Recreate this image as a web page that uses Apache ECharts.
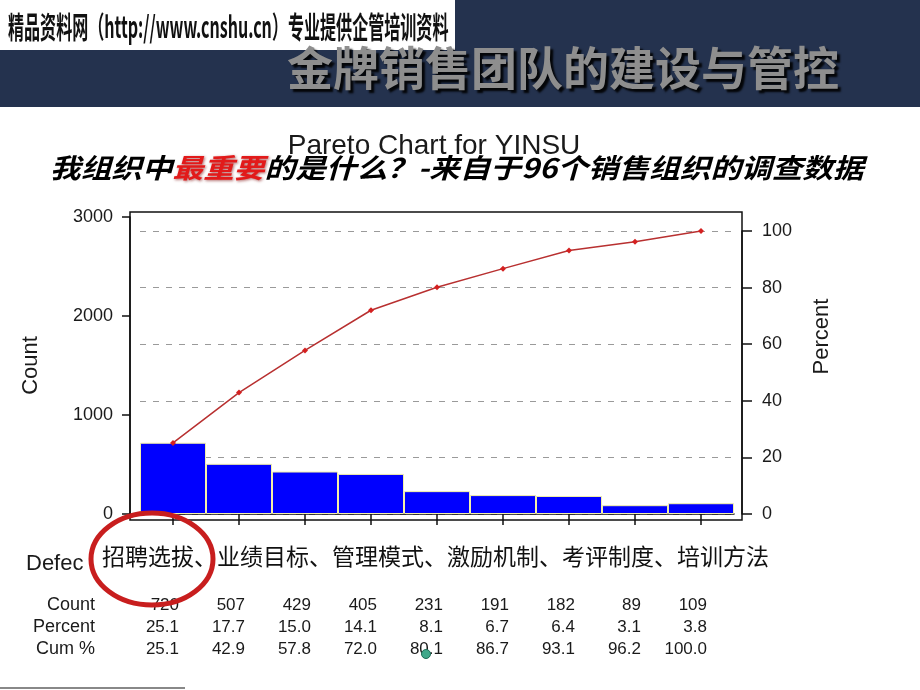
<!DOCTYPE html>
<html>
<head>
<meta charset="utf-8">
<script src="https://cdn.jsdelivr.net/npm/echarts@6/dist/echarts.min.js"></script>
<style>
html,body{margin:0;padding:0;background:#fff;}
#chart{width:920px;height:690px;}
</style>
</head>
<body>
<div id="chart"></div>
<script>
// ---- data ----
const categories = ['1', '2', '3', '4', '5', '6', '7', '8', 'Others'];
const counts = [720, 507, 429, 405, 231, 191, 182, 89, 109];
const percents = ['25.1', '17.7', '15.0', '14.1', '8.1', '6.7', '6.4', '3.1', '3.8'];
const cumPercents = [25.1, 42.9, 57.8, 72.0, 80.1, 86.7, 93.1, 96.2, 100.0];
const rowLabels = ['Count', 'Percent', 'Cum %'];
const countTicks = [0, 1000, 2000, 3000];
const percentTicks = [0, 20, 40, 60, 80, 100];
const headerText = '精品资料网（http://www.cnshu.cn）专业提供企管培训资料';
const slideTitle = '金牌销售团队的建设与管控';
const chartTitle = 'Pareto Chart for YINSU';
const overlayText = '招聘选拔、业绩目标、管理模式、激励机制、考评制度、培训方法';

const LATIN = '"Liberation Sans", Arial, sans-serif';
const CJK = '"Noto Sans CJK SC", sans-serif';

const chart = echarts.init(document.getElementById('chart'), null, {renderer: 'canvas'});

const tableRows = [counts.map(String), percents, cumPercents.map(v => v.toFixed(1))];
const rowOffsets = [9, 31, 53];

const tableAxes = tableRows.map((row, i) => ({
  gridIndex: 3, type: 'category', data: row, position: 'bottom', offset: rowOffsets[i],
  axisLine: {show: false}, axisTick: {show: false}, splitLine: {show: false},
  axisLabel: {align: 'right', verticalAlign: 'middle', margin: 0, fontSize: 17,
    color: '#1a1a1a', fontFamily: LATIN, interval: 0}
}));

const option = {
  animation: false,
  backgroundColor: '#ffffff',
  grid: [
    {left: 140, right: 186, top: 217, bottom: 176},
    {left: 140, right: 186, top: 231, bottom: 176},
    {left: 130, right: 178, top: 212, bottom: 170, show: true, borderColor: '#111', borderWidth: 1.5, backgroundColor: 'transparent', z: 5},
    {left: 146, right: 180, top: 595, height: 1},
    {left: 146, right: 180, top: 594, height: 66}
  ],
  xAxis: [
    {gridIndex: 0, type: 'category', data: categories, position: 'bottom', offset: 6,
      axisLine: {show: true, lineStyle: {color: '#111', width: 1.5}},
      axisTick: {show: true, alignWithLabel: true, length: 11, lineStyle: {color: '#111', width: 1.5}},
      axisLabel: {show: false}, splitLine: {show: false}},
    {gridIndex: 1, type: 'category', data: categories, show: false},
    {gridIndex: 2, type: 'value', show: false},
    ...tableAxes,
    {gridIndex: 4, type: 'value', show: false}
  ],
  yAxis: [
    {gridIndex: 0, type: 'value', position: 'left', min: countTicks[0], max: countTicks[countTicks.length - 1],
      interval: countTicks[1] - countTicks[0], offset: 10,
      axisLine: {show: true, lineStyle: {color: '#111', width: 1.5}},
      axisTick: {show: true, length: 8, lineStyle: {color: '#111', width: 1.5}},
      axisLabel: {margin: 17, fontSize: 18, color: '#1a1a1a', fontFamily: LATIN, formatter: v => String(v)},
      splitLine: {show: false},
      name: 'Count', nameLocation: 'middle', nameGap: 88,
      nameTextStyle: {fontSize: 22, color: '#1a1a1a', fontFamily: LATIN}},
    {gridIndex: 1, type: 'value', position: 'right', min: percentTicks[0], max: percentTicks[percentTicks.length - 1],
      interval: percentTicks[1] - percentTicks[0], offset: 8,
      axisLine: {show: true, lineStyle: {color: '#111', width: 1.5}},
      axisTick: {show: true, length: 10, lineStyle: {color: '#111', width: 1.5}},
      axisLabel: {margin: 20, fontSize: 18, color: '#1a1a1a', fontFamily: LATIN, formatter: v => String(v)},
      splitLine: {show: true, lineStyle: {color: '#9a9a9a', width: 1, type: [6, 7]}},
      name: 'Percent', nameLocation: 'middle', nameGap: 69,
      nameTextStyle: {fontSize: 22, color: '#1a1a1a', fontFamily: LATIN, padding: [0, 0, 0, 72]}},
    {gridIndex: 2, type: 'value', show: false},
    {gridIndex: 3, type: 'value', show: false},
    {gridIndex: 4, type: 'category', data: rowLabels, inverse: true, position: 'left',
      axisLine: {show: false}, axisTick: {show: false}, splitLine: {show: false},
      axisLabel: {margin: 51, fontSize: 18, color: '#1a1a1a', fontFamily: LATIN, interval: 0}}
  ],
  series: [
    {type: 'bar', xAxisIndex: 0, yAxisIndex: 0, data: counts, barCategoryGap: '0%', z: 2,
      itemStyle: {color: '#0000ff', borderColor: '#f3f0a8', borderWidth: 1}},
    {type: 'line', xAxisIndex: 1, yAxisIndex: 1, data: cumPercents, z: 3,
      symbol: 'diamond', symbolSize: 6,
      itemStyle: {color: '#d42020'},
      lineStyle: {color: '#b83030', width: 1.5}}
  ],
  graphic: [
    {type: 'rect', z: 1, shape: {x: 0, y: 0, width: 920, height: 107}, style: {fill: '#24324e'}},
    {type: 'rect', z: 2, shape: {x: 0, y: 0, width: 455, height: 50}, style: {fill: '#ffffff'}},
    {type: 'text', z: 3, x: 8, y: 27, scaleX: 0.535,
      style: {text: headerText, font: 'bold 30px ' + CJK, fill: '#111', align: 'left', verticalAlign: 'middle'}},
    {type: 'text', z: 3, x: 287, y: 68,
      style: {text: slideTitle, font: 'bold 46px ' + CJK, fill: '#8e8e8e', align: 'left', verticalAlign: 'middle',
        textShadowColor: 'rgba(0,0,0,0.9)', textShadowBlur: 2, textShadowOffsetX: 3, textShadowOffsetY: 3}},
    {type: 'text', z: 3, x: 434, y: 146,
      style: {text: chartTitle, font: '28px ' + LATIN, fill: '#1a1a1a', align: 'center', verticalAlign: 'middle'}},
    {type: 'text', z: 4, x: 50, y: 168, scaleX: 1.135,
      style: {text: '{n|我组织中}{r|最重要}{n|的是什么？-来自于96个销售组织的调查数据}',
        align: 'left', verticalAlign: 'middle',
        rich: {
          n: {font: 'italic bold 27px ' + CJK, fill: '#000'},
          r: {font: 'italic bold 27px ' + CJK, fill: '#e21a1a', textShadowColor: 'rgba(120,0,0,0.6)', textShadowBlur: 3, textShadowOffsetX: 1, textShadowOffsetY: 1}
        }}},
    {type: 'text', z: 20, x: 26, y: 564,
      style: {text: 'Defec', font: '22px ' + LATIN, fill: '#1a1a1a', align: 'left', verticalAlign: 'middle'}},
    {type: 'text', z: 21, x: 100, y: 556,
      style: {text: overlayText, font: '23px ' + CJK, fill: '#111', align: 'left', verticalAlign: 'middle',
        backgroundColor: '#ffffff', padding: [2, 2, 2, 2]}},
    {type: 'ellipse', z: 30, shape: {cx: 152, cy: 559, rx: 61, ry: 46},
      style: {fill: 'transparent', stroke: '#c81e1e', lineWidth: 5}},
    {type: 'circle', z: 30, shape: {cx: 426, cy: 654, r: 4.5},
      style: {fill: '#3fa88a', stroke: '#1d6b55', lineWidth: 1}},
    {type: 'line', z: 30, shape: {x1: 0, y1: 688, x2: 185, y2: 688},
      style: {stroke: '#888', lineWidth: 2}}
  ]
};

chart.setOption(option);
</script>
</body>
</html>
